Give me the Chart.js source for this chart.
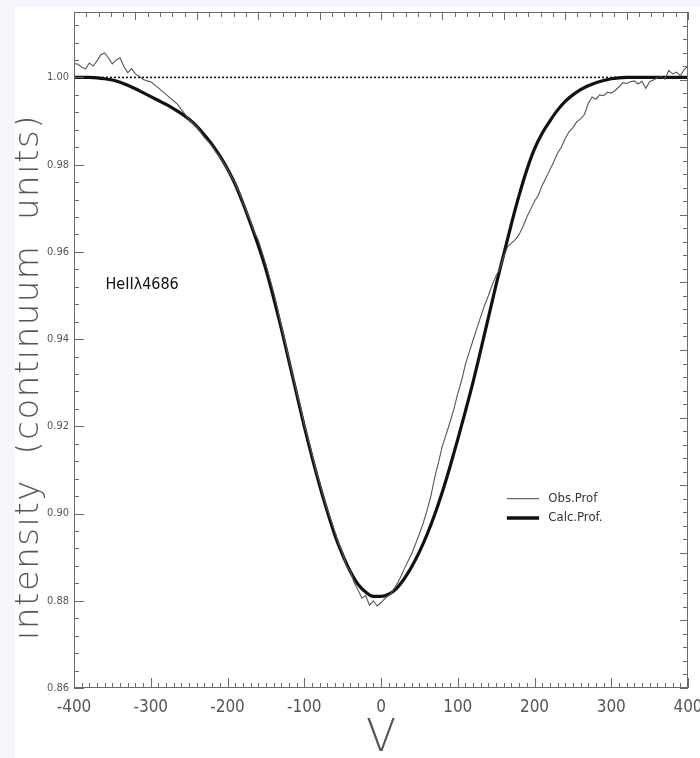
<!DOCTYPE html>
<html>
<head>
<meta charset="utf-8">
<script src="https://cdn.jsdelivr.net/npm/chart.js"></script>
<style>
  html, body { margin: 0; padding: 0; background: #f6f6fc; }
  #wrap { position: absolute; left: 15px; top: 7px; width: 685px; height: 751px; background: #fff; }
</style>
</head>
<body>
<div id="wrap"><canvas id="profileChart"></canvas></div>
<script type="text/javascript">
    // observed profile, HeII 4686 (velocity in km/s, intensity in continuum units)
    var obs_velocity = [
        -400,-395,-390,-385,-380,-375,-370,-365,-360,-355,-350,-345,-340,-335,-330,-325,-320,-315,-310,-305,
        -300,-295,-290,-285,-280,-275,-270,-265,-260,-255,-250,-245,-240,-235,-230,-225,-220,-215,-210,-205,
        -200,-195,-190,-185,-180,-175,-170,-165,-160,-155,-150,-145,-140,-135,-130,-125,-120,-115,-110,-105,
        -100,-95,-90,-85,-80,-75,-70,-65,-60,-55,-50,-45,-40,-35,-30,-25,-20,-15,-10,-5,
        0,5,10,15,20,25,30,35,40,45,50,55,60,65,70,75,80,85,90,95,
        100,105,110,115,120,125,130,135,140,145,150,155,160,165,170,175,180,185,190,195,
        200,205,210,215,220,225,230,235,240,245,250,255,260,265,270,275,280,285,290,295,
        300,305,310,315,320,325,330,335,340,345,350,355,360,365,370,375,380,385,390,395,400
    ];
    var obs_intensity = [
        1.0032,1.0030,1.0024,1.0019,1.0033,1.0026,1.0038,1.0052,1.0056,1.0044,1.0031,1.0040,1.0045,1.0025,1.0011,1.0020,1.0008,1.0002,0.9996,0.9992,
        0.9990,0.9983,0.9976,0.9968,0.9961,0.9953,0.9946,0.9938,0.9926,0.9915,0.9903,0.9895,0.9887,0.9874,0.9862,0.9853,0.9842,0.9828,0.9818,0.9804,
        0.9789,0.9772,0.9756,0.9738,0.9714,0.9692,0.9670,0.9645,0.9628,0.9600,0.9572,0.9540,0.9508,0.9472,0.9432,0.9395,0.9355,0.9318,0.9280,0.9245,
        0.9205,0.9172,0.9138,0.9102,0.9072,0.9040,0.9010,0.8985,0.8958,0.8930,0.8910,0.8880,0.8868,0.8842,0.8825,0.8806,0.8812,0.8790,0.8800,0.8788,
        0.8796,0.8805,0.8812,0.8822,0.8836,0.8852,0.8872,0.8890,0.8908,0.8930,0.8953,0.8978,0.9008,0.9040,0.9083,0.9118,0.9155,0.9182,0.9210,0.9240,
        0.9275,0.9305,0.9342,0.9370,0.9398,0.9425,0.9452,0.9478,0.9500,0.9525,0.9545,0.9562,0.9590,0.9612,0.9620,0.9628,0.9640,0.9658,0.9680,0.9698,
        0.9716,0.9730,0.9752,0.9770,0.9788,0.9806,0.9826,0.9840,0.9860,0.9875,0.9885,0.9898,0.9905,0.9915,0.9940,0.9955,0.9950,0.9960,0.9958,0.9966,
        0.9964,0.9970,0.9978,0.9988,0.9986,0.9990,0.9992,0.9985,0.9991,0.9975,0.9990,0.9994,0.9999,1.0002,0.9996,1.0016,1.0008,1.0012,1.0004,1.0018,1.0026
    ];

    // calculated profile
    var calc_velocity = [
        -400,-390,-380,-370,-360,-350,-340,-330,-320,-310,-300,-290,-280,-270,-260,-250,-240,-230,-220,-210,
        -200,-190,-180,-170,-160,-150,-140,-130,-120,-110,-100,-90,-80,-70,-60,-50,-40,-30,-20,-10,
        0,10,20,30,40,50,60,70,80,90,100,110,120,130,140,150,160,170,180,190,
        200,210,220,230,240,250,260,270,280,290,300,310,320,330,340,350,360,370,380,390,400
    ];
    var calc_intensity = [
        1.0000,1.0000,1.0000,0.9999,0.9997,0.9994,0.9989,0.9982,0.9974,0.9965,0.9956,0.9947,0.9938,0.9928,0.9917,0.9904,0.9888,0.9868,0.9846,0.9820,
        0.9790,0.9755,0.9712,0.9665,0.9615,0.9560,0.9495,0.9425,0.9350,0.9275,0.9200,0.9130,0.9065,0.9005,0.8950,0.8905,0.8867,0.8838,0.8820,0.8810,
        0.8810,0.8815,0.8828,0.8850,0.8878,0.8912,0.8952,0.8998,0.9050,0.9108,0.9170,0.9235,0.9302,0.9375,0.9450,0.9525,0.9595,0.9665,0.9730,0.9788,
        0.9836,0.9872,0.9900,0.9925,0.9945,0.9960,0.9972,0.9981,0.9988,0.9993,0.9997,0.9999,1.0000,1.0000,1.0000,1.0000,1.0000,1.0000,1.0000,1.0000,1.0000
    ];

    // continuum level
    var cont_velocity = [-400, 400];
    var cont_intensity = [1.0, 1.0];

    var x_ticks = [-400, -300, -200, -100, 0, 100, 200, 300, 400];
    var y_ticks = [0.86, 0.88, 0.90, 0.92, 0.94, 0.96, 0.98, 1.00];

    var line_label = 'HeII\u03bb4686';
    var legend_labels = ['Obs.Prof', 'Calc.Prof.'];
    var y_title = 'intensity  (continuum  units)';
    var x_title = 'V';

    function toPoints(xs, ys) {
        return xs.map(function (v, i) { return { x: v, y: ys[i] }; });
    }

    var condensed = "'DejaVu Sans Condensed', 'Liberation Sans Narrow', 'DejaVu Sans', sans-serif";

    // box, inward tick marks, labels, legend
    var decorPlugin = {
        id: 'decor',
        afterDraw: function (chart) {
            var ctx = chart.ctx;
            var a = chart.chartArea;
            var xs = chart.scales.x;
            var ys = chart.scales.y;
            ctx.save();
            ctx.strokeStyle = '#6a6a6a';
            ctx.lineWidth = 1;
            ctx.strokeRect(a.left + 0.5, a.top + 0.5, a.right - a.left - 1, a.bottom - a.top - 1);

            ctx.beginPath();
            // bottom axis: minor every 10, major every 100
            for (var v = -400; v <= 400; v += 10) {
                var px = Math.round(xs.getPixelForValue(v)) + 0.5;
                var len = (v % 100 === 0) ? 10 : 5;
                ctx.moveTo(px, a.bottom);
                ctx.lineTo(px, a.bottom - len);
            }
            // left axis: minor every 0.004, major every 0.02
            for (var k = 0; k <= 38; k++) {
                var val = 0.86 + k * 0.004;
                var py = Math.round(ys.getPixelForValue(val)) + 0.5;
                var l2 = (k % 5 === 0) ? 10 : 5;
                ctx.moveTo(a.left, py);
                ctx.lineTo(a.left + l2, py);
            }
            // top and right axes: 50 divisions
            for (var j = 0; j <= 50; j++) {
                var tx = Math.round(a.left + (a.right - a.left) * j / 50) + 0.5;
                ctx.moveTo(tx, a.top);
                ctx.lineTo(tx, a.top + (j % 5 === 0 ? 8 : 5));
                var ty = Math.round(a.bottom - (a.bottom - a.top) * j / 50) + 0.5;
                ctx.moveTo(a.right, ty);
                ctx.lineTo(a.right - (j % 5 === 0 ? 8 : 5), ty);
            }
            ctx.stroke();

            // line identification
            ctx.fillStyle = '#111';
            ctx.font = '16px ' + condensed;
            ctx.textAlign = 'left';
            ctx.textBaseline = 'middle';
            ctx.fillText(line_label, xs.getPixelForValue(-359), ys.getPixelForValue(0.9524));

            // legend
            var lx0 = xs.getPixelForValue(164);
            var lx1 = xs.getPixelForValue(206);
            var tx0 = xs.getPixelForValue(218);
            var ly = [ys.getPixelForValue(0.9034), ys.getPixelForValue(0.8990)];
            ctx.lineCap = 'butt';
            ctx.strokeStyle = '#666';
            ctx.lineWidth = 1.2;
            ctx.beginPath();
            ctx.moveTo(lx0, ly[0]); ctx.lineTo(lx1, ly[0]);
            ctx.stroke();
            ctx.strokeStyle = '#111';
            ctx.lineWidth = 3.5;
            ctx.beginPath();
            ctx.moveTo(lx0, ly[1]); ctx.lineTo(lx1, ly[1]);
            ctx.stroke();
            ctx.fillStyle = '#333';
            ctx.font = '13px ' + condensed;
            ctx.fillText(legend_labels[0], tx0, ly[0]);
            ctx.fillText(legend_labels[1], tx0, ly[1]);

            // axis titles
            ctx.fillStyle = '#555';
            ctx.font = '200 34px "DejaVu Sans", sans-serif';
            ctx.textAlign = 'center';
            ctx.save();
            ctx.letterSpacing = '1.5px';
            ctx.translate(14, (a.top + a.bottom) / 2 + 27);
            ctx.rotate(-Math.PI / 2);
            ctx.fillText(y_title, 0, 0);
            ctx.restore();
            ctx.font = '200 44px "DejaVu Sans", sans-serif';
            ctx.fillText(x_title, xs.getPixelForValue(0), a.bottom + 52);
            ctx.restore();
        }
    };

    var ctx = document.getElementById('profileChart').getContext('2d');
    var profileChart = new Chart(ctx, {
        type: 'line',
        data: {
            datasets: [{
                label: 'continuum',
                data: toPoints(cont_velocity, cont_intensity),
                borderColor: '#111',
                borderWidth: 1.6,
                borderDash: [2, 2],
                pointRadius: 0,
                fill: false
            }, {
                label: legend_labels[0],
                data: toPoints(obs_velocity, obs_intensity),
                borderColor: '#555',
                borderWidth: 1.1,
                pointRadius: 0,
                tension: 0,
                fill: false
            }, {
                label: legend_labels[1],
                data: toPoints(calc_velocity, calc_intensity),
                borderColor: '#111',
                borderWidth: 3.2,
                pointRadius: 0,
                cubicInterpolationMode: 'monotone',
                fill: false
            }]
        },
        options: {
            responsive: true,
            maintainAspectRatio: false,
            animation: false,
            devicePixelRatio: 1,
            layout: { padding: { top: 5, right: 12, left: 0, bottom: 0 } },
            plugins: {
                legend: { display: false },
                tooltip: { enabled: false }
            },
            scales: {
                x: {
                    type: 'linear',
                    min: -400,
                    max: 400,
                    grid: { display: false, drawTicks: false },
                    border: { display: false },
                    afterBuildTicks: function (scale) {
                        scale.ticks = x_ticks.map(function (v) { return { value: v }; });
                    },
                    afterFit: function (scale) {
                        scale.height = 70;
                        scale.paddingLeft = 0;
                        scale.paddingRight = 0;
                    },
                    ticks: {
                        padding: 9,
                        color: '#555',
                        maxRotation: 0,
                        autoSkip: false,
                        font: { family: condensed, size: 17 },
                        callback: function (v) { return String(v); }
                    }
                },
                y: {
                    type: 'linear',
                    min: 0.86,
                    max: 1.015,
                    grid: { display: false, drawTicks: false },
                    border: { display: false },
                    afterBuildTicks: function (scale) {
                        scale.ticks = y_ticks.map(function (v) { return { value: v }; });
                    },
                    afterFit: function (scale) {
                        scale.width = 59;
                        scale.paddingTop = 0;
                        scale.paddingBottom = 0;
                    },
                    ticks: {
                        padding: 5,
                        color: '#555',
                        autoSkip: false,
                        font: { family: condensed, size: 11 },
                        callback: function (v) { return Number(v).toFixed(2); }
                    }
                }
            }
        },
        plugins: [decorPlugin]
    });
</script>
</body>
</html>
